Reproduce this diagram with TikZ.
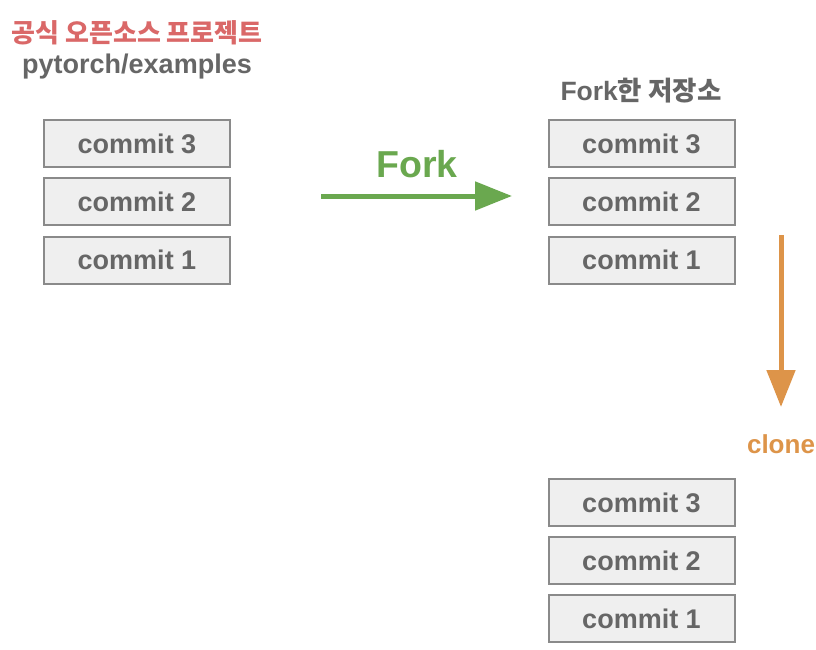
\documentclass[tikz,border=0pt]{standalone}
\usepackage{fontspec}
\setmainfont{Liberation Sans}
\newfontfamily\kr{Noto Sans CJK KR}
\usetikzlibrary{arrows.meta}
\definecolor{txtgray}{HTML}{666666}
\definecolor{boxfill}{HTML}{EFEFEF}
\definecolor{boxline}{HTML}{8A8A8A}
\definecolor{titlered}{HTML}{DA6868}
\definecolor{forkgreen}{HTML}{6AA84F}
\definecolor{cloneorange}{HTML}{DD9449}
\tikzset{
  commitbox/.style={draw=boxline, line width=2pt, fill=boxfill, minimum width=186pt, minimum height=47pt, inner sep=0pt, text=txtgray, font=\fontsize{27}{32}\selectfont\bfseries},
  lbl/.style={inner sep=0pt, font=\fontsize{27}{32}\selectfont\bfseries, text=txtgray},
  bigarrow/.style={line width=5pt, -{Triangle[length=37pt,width=28pt]}}
}
\begin{document}
\begin{tikzpicture}[x=1pt,y=-1pt]
\useasboundingbox[fill=white] (0,0) rectangle (816,650);
% titles
\node[lbl, text=titlered, font=\kr\fontsize{26}{30}\selectfont\bfseries] (t1) at (137,33) {공식 오픈소스 프로젝트};
\node[lbl] (t2) at (137,67) {pytorch/examples};
\node[lbl, font=\fontsize{26.5}{30}\selectfont\bfseries] (t3) at (641,91) {Fork{\kr 한 저장소}};
% left repo
\node[commitbox] (l3) at (137,143.5) {commit 3};
\node[commitbox] (l2) at (137,201.5) {commit 2};
\node[commitbox] (l1) at (137,260) {commit 1};
% forked repo
\node[commitbox] (r3) at (641.5,143.5) {commit 3};
\node[commitbox] (r2) at (641.5,201.5) {commit 2};
\node[commitbox] (r1) at (641.5,260) {commit 1};
% cloned repo
\node[commitbox] (c3) at (641.5,502.5) {commit 3};
\node[commitbox] (c2) at (641.5,560.5) {commit 2};
\node[commitbox] (c1) at (641.5,618.5) {commit 1};
% fork arrow
\coordinate (fs) at (321,196);
\coordinate (fe) at (512,196);
\draw[bigarrow, draw=forkgreen, fill=forkgreen] (fs) -- (fe);
\node[lbl, text=forkgreen, font=\fontsize{37.5}{42}\selectfont\bfseries] (fl) at (417,164) {Fork};
% clone arrow
\coordinate (cs) at (781,235);
\coordinate (ce) at (781,407);
\draw[bigarrow, draw=cloneorange, fill=cloneorange] (cs) -- (ce);
\node[lbl, text=cloneorange, font=\fontsize{26}{30}\selectfont\bfseries] (cl) at (781,444) {clone};
\end{tikzpicture}
\end{document}
